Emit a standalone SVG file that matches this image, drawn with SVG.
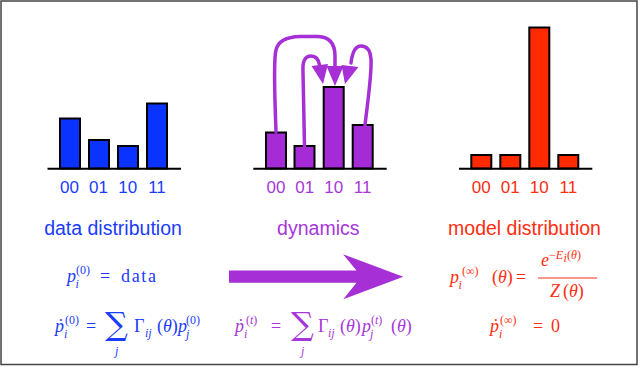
<svg xmlns="http://www.w3.org/2000/svg" width="640" height="367" viewBox="0 0 640 367">
<defs>
<style>
.bar{stroke:#000;stroke-width:2}
.axis{stroke:#000;stroke-width:2}
.lbl{font-family:"Liberation Sans",Arial,sans-serif;font-size:17px;text-anchor:middle}
.ttl{font-family:"Liberation Sans",Arial,sans-serif;font-size:19.5px;text-anchor:middle}
.m{font-family:"Liberation Serif","DejaVu Serif",serif;font-size:18px}
.mi{font-family:"Liberation Serif","DejaVu Serif",serif;font-size:18px;font-style:italic}
.s{font-family:"Liberation Serif","DejaVu Serif",serif;font-size:12px}
.si{font-family:"Liberation Serif","DejaVu Serif",serif;font-size:12px;font-style:italic}
.big{font-family:"DejaVu Serif","Liberation Serif",serif;font-size:32px}
.blue{fill:#1a3cff}
.purple{fill:#a737d8}
.red{fill:#ff2e10}
.loop{fill:none;stroke:#a62fd6;stroke-width:3.5;stroke-linecap:round;stroke-linejoin:round}
</style>
</defs>
<rect x="1" y="1" width="636" height="363.5" fill="#fff" stroke="#444" stroke-width="1.5"/>

<g id="data-chart">
<rect class="bar" x="60" y="118.5" width="20" height="50" fill="#0a33ff"/>
<rect class="bar" x="89" y="140" width="20" height="28.5" fill="#0a33ff"/>
<rect class="bar" x="118" y="146" width="20" height="22.5" fill="#0a33ff"/>
<rect class="bar" x="147" y="103.5" width="20" height="65" fill="#0a33ff"/>
<line class="axis" x1="47.5" y1="168.7" x2="181" y2="168.7"/>
<g class="lbl blue">
<text x="69.5" y="193">00</text><text x="98.5" y="193">01</text><text x="127.8" y="193">10</text><text x="157" y="193">11</text>
</g>
<text class="ttl blue" x="113" y="235">data distribution</text>
</g>

<g id="dynamics-chart">
<rect class="bar" x="266" y="132.5" width="20" height="36" fill="#a42bd6"/>
<rect class="bar" x="294.5" y="146" width="20" height="22.5" fill="#a42bd6"/>
<rect class="bar" x="323.7" y="87" width="20" height="81.5" fill="#a42bd6"/>
<rect class="bar" x="352.7" y="125" width="20" height="43.5" fill="#a42bd6"/>
<line class="axis" x1="253.3" y1="168.7" x2="386.7" y2="168.7"/>
<g class="lbl purple">
<text x="276" y="193">00</text><text x="304.7" y="193">01</text><text x="333.7" y="193">10</text><text x="362.7" y="193">11</text>
</g>
<text class="ttl purple" x="318.3" y="235">dynamics</text>
</g>

<g id="model-chart">
<rect class="bar" x="471.3" y="155" width="20" height="13.5" fill="#ff2a00"/>
<rect class="bar" x="500.3" y="155" width="20" height="13.5" fill="#ff2a00"/>
<rect class="bar" x="529.3" y="27.5" width="20" height="141" fill="#ff2a00"/>
<rect class="bar" x="558.3" y="155" width="20" height="13.5" fill="#ff2a00"/>
<line class="axis" x1="459" y1="168.7" x2="592.3" y2="168.7"/>
<g class="lbl red">
<text x="481.3" y="193">00</text><text x="510.3" y="193">01</text><text x="539.3" y="193">10</text><text x="568.3" y="193">11</text>
</g>
<text class="ttl red" x="524.5" y="235">model distribution</text>
</g>

<g id="connectors">
<path class="loop" d="M276,132 C275,100 273,62 276,50 Q279,37 300,36.5 L318,36.5 Q335,37 335,56 L335,66"/>
<path class="loop" d="M304.5,146 L303,72 Q302,56 311,56 Q318,56 319.5,65"/>
<path class="loop" d="M365,125 C368,100 372,72 371,59 Q370,46 361,46 Q353,46 351,63"/>
<g fill="#a62fd6">
<polygon points="311.5,66 328,64 323,84"/>
<polygon points="326.5,66 343.5,66 335,86"/>
<polygon points="341.5,65 358.5,67 345,84"/>
<polygon points="229,270.5 356.5,270.5 343,254.3 403.3,276.8 343.3,299.3 356.5,282.8 229,282.8"/>
</g>
</g>

<g id="data-equations" class="blue">
<text class="mi" x="67" y="282">p</text>
<text class="si" x="75.5" y="287.5">i</text>
<text class="s" x="76" y="273.5">(0)</text>
<text class="m" x="100" y="282" textLength="13">=</text>
<text class="m" x="121" y="282" textLength="35">data</text>

<text class="mi" x="55" y="332">ṗ</text>
<text class="si" x="64" y="337.5">i</text>
<text class="s" x="65" y="323.5">(0)</text>
<text class="m" x="86" y="332">=</text>
<text class="big" x="105" y="335">∑</text>
<text class="si" x="115" y="355">j</text>
<text class="m" x="134" y="332">Γ</text>
<text class="si" x="145" y="337">ij</text>
<text class="m" x="157" y="332">(<tspan font-style="italic">θ</tspan>)</text>
<text class="mi" x="178" y="332">p</text>
<text class="si" x="186" y="337.5">j</text>
<text class="s" x="186" y="323.5">(0)</text>
</g>

<g id="dynamics-equation" class="purple">
<text class="mi" x="235" y="332">ṗ</text>
<text class="si" x="244" y="337.5">i</text>
<text class="s" x="246" y="323.5">(<tspan font-style="italic">t</tspan>)</text>
<text class="m" x="271" y="332">=</text>
<text class="big" x="291" y="335">∑</text>
<text class="si" x="301" y="355">j</text>
<text class="m" x="318" y="332">Γ</text>
<text class="si" x="328" y="337">ij</text>
<text class="m" x="340" y="332">(<tspan font-style="italic">θ</tspan>)</text>
<text class="mi" x="362" y="332">p</text>
<text class="si" x="370" y="337.5">j</text>
<text class="s" x="371" y="323.5">(<tspan font-style="italic">t</tspan>)</text>
<text class="m" x="391" y="332">(<tspan font-style="italic">θ</tspan>)</text>
</g>

<g id="model-equations" class="red">
<text class="mi" x="450" y="283">p</text>
<text class="si" x="458.5" y="288.5">i</text>
<text class="s" x="462" y="274.5" font-size="13px">(∞)</text>
<text class="m" x="492" y="283">(<tspan font-style="italic">θ</tspan>)</text>
<text class="m" x="516" y="283" textLength="13">=</text>
<line x1="538" y1="278" x2="597" y2="278" stroke="#ff2e10" stroke-width="1"/>
<text class="mi" x="541" y="266">e</text>
<text class="s" x="549" y="259">−<tspan font-style="italic">E</tspan></text>
<text class="si" x="563.5" y="262" font-size="9px">i</text>
<text class="s" x="567" y="259">(<tspan font-style="italic">θ</tspan>)</text>
<text class="mi" x="550" y="297">Z</text>
<text class="m" x="563" y="297">(<tspan font-style="italic">θ</tspan>)</text>

<text class="mi" x="490" y="332">ṗ</text>
<text class="si" x="499" y="337.5">i</text>
<text class="s" x="500" y="323.5" font-size="13px">(∞)</text>
<text class="m" x="533" y="332" textLength="13">=</text>
<text class="m" x="551" y="332">0</text>
</g>
</svg>
